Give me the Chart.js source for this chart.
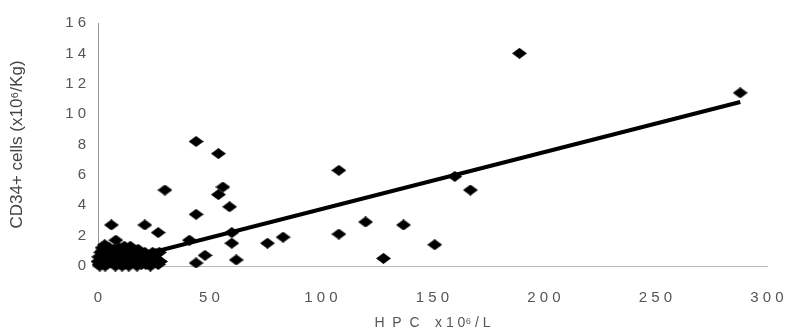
<!DOCTYPE html>
<html>
<head>
<meta charset="utf-8">
<script src="https://cdn.jsdelivr.net/npm/chart.js@4"></script>
<style>
  html, body { margin: 0; padding: 0; background: #fff; }
  #wrap { width: 785px; height: 330px; }
</style>
</head>
<body>
<div id="wrap"><canvas id="chart"></canvas></div>
<script>
// HPC (x10^6/L) vs CD34+ cells (x10^6/Kg)
const hpcValues = [
  189, 288, 44, 54, 30, 56, 54, 59, 44, 108, 120, 137, 108, 151, 128, 83, 76,
  60, 60, 62, 48, 44, 41, 27, 21, 6, 8, 160, 167,
  // dense group near the origin
  0.5, 1, 1.5, 2, 2.5, 3, 3.5, 4, 4.5, 5, 5.5, 6, 6.5, 7, 7.5, 8, 8.5, 9, 9.5,
  10, 10.5, 11, 11.5, 12, 12.5, 13, 13.5, 14, 14.5, 15, 16, 16.5, 17, 18, 18.5,
  19, 20, 21, 22, 23, 24, 25, 26, 0.3, 2, 5, 3,
  0, 0.8, 1.2, 3.2, 4.2, 6.2, 7.8, 9.2, 10.8, 12.2, 13.8, 15.5, 17.5, 19.5,
  21.5, 23.5, 25.5, 27, 28, 1.8, 5.8, 8.8, 11.8, 14.8, 17.8, 20.5, 24.5, 27.5
];
const cd34Values = [
  14.0, 11.4, 8.2, 7.4, 5.0, 5.2, 4.7, 3.9, 3.4, 6.3, 2.9, 2.7, 2.1, 1.4, 0.5, 1.9, 1.5,
  1.5, 2.2, 0.4, 0.7, 0.2, 1.7, 2.2, 2.7, 2.7, 1.7, 5.9, 5.0,
  0.1, 0.3, 0.5, 0.2, 0.8, 0.4, 0.1, 0.6, 1.0, 0.3, 0.7, 0.2, 0.5, 1.1, 0.4, 0.8, 0.2, 0.6, 1.2,
  0.3, 0.9, 0.5, 0.1, 0.7, 1.0, 0.4, 0.8, 0.2, 1.3, 0.6, 0.3, 0.9, 0.5, 1.1, 0.2,
  0.7, 0.4, 0.9, 0.3, 0.6, 0.2, 0.5, 0.8, 0.6, 1.0, 1.2, 1.4,
  0.3, 0.0, 0.9, 0.0, 0.2, 0.9, 0.0, 0.3, 0.0, 0.3, 0.0, 0.4, 0.0, 0.1,
  0.1, 0.0, 0.2, 0.1, 0.3, 1.2, 1.0, 1.0, 1.3, 1.0, 0.4, 0.6, 0.9, 0.9
];

// fitted line end points
const trendX = [0.5, 288];
const trendY = [0.0, 10.8];

const xTicks = [0, 50, 100, 150, 200, 250, 300];
const yTicks = [0, 2, 4, 6, 8, 10, 12, 14, 16];

// flattened diamond marker like the original
function makeDiamond(w, h) {
  const c = document.createElement('canvas');
  c.width = w; c.height = h;
  const g = c.getContext('2d');
  g.fillStyle = '#000';
  g.beginPath();
  g.moveTo(w / 2, 0);
  g.lineTo(w, h / 2);
  g.lineTo(w / 2, h);
  g.lineTo(0, h / 2);
  g.closePath();
  g.fill();
  return c;
}
const diamond = makeDiamond(15, 11);

const spaced = v => String(v).split('').join(' ');

const points = hpcValues.map((x, i) => ({ x: x, y: cd34Values[i] }));
const trend = trendX.map((x, i) => ({ x: x, y: trendY[i] }));

new Chart(document.getElementById('chart'), {
  type: 'scatter',
  data: {
    datasets: [
      {
        data: trend,
        showLine: true,
        borderColor: '#000',
        borderWidth: 4,
        pointRadius: 0,
        order: 2
      },
      {
        data: points,
        pointStyle: diamond,
        pointRadius: 7,
        clip: false,
        order: 1
      }
    ]
  },
  options: {
    responsive: true,
    maintainAspectRatio: false,
    animation: false,
    layout: { padding: { left: 0, right: 0, top: 23, bottom: 0 } },
    plugins: { legend: { display: false }, tooltip: { enabled: false } },
    scales: {
      x: {
        type: 'linear',
        min: 0, max: 300,
        afterBuildTicks: s => { s.ticks = xTicks.map(v => ({ value: v })); },
        afterFit: s => { s.height = 64; s.paddingLeft = 0; s.paddingRight = 18; },
        grid: { display: false },
        border: { display: true, color: '#bbb', width: 1 },
        ticks: {
          padding: 15,
          color: '#555',
          font: { family: 'Liberation Sans, Arial', size: 15 },
          callback: v => spaced(v)
        },
        title: {
          display: true,
          text: 'H  P  C    x 1 0\u2076 / L',
          color: '#555',
          padding: { top: 0, bottom: 0 },
          font: { family: 'Liberation Sans, Arial', size: 14, lineHeight: 1 }
        }
      },
      y: {
        type: 'linear',
        min: 0, max: 16,
        afterBuildTicks: s => { s.ticks = yTicks.map(v => ({ value: v })); },
        afterFit: s => { s.width = 98; },
        grid: { display: false },
        border: { display: true, color: '#999', width: 1 },
        ticks: {
          padding: 4,
          color: '#555',
          font: { family: 'Liberation Sans, Arial', size: 15 },
          callback: v => spaced(v)
        },
        title: {
          display: true,
          text: 'CD34+ cells (x10\u2076/Kg)',
          color: '#444',
          padding: { top: 9, bottom: 0 },
          font: { family: 'Liberation Sans, Arial', size: 17, lineHeight: 1 }
        }
      }
    }
  }
});
</script>
</body>
</html>
